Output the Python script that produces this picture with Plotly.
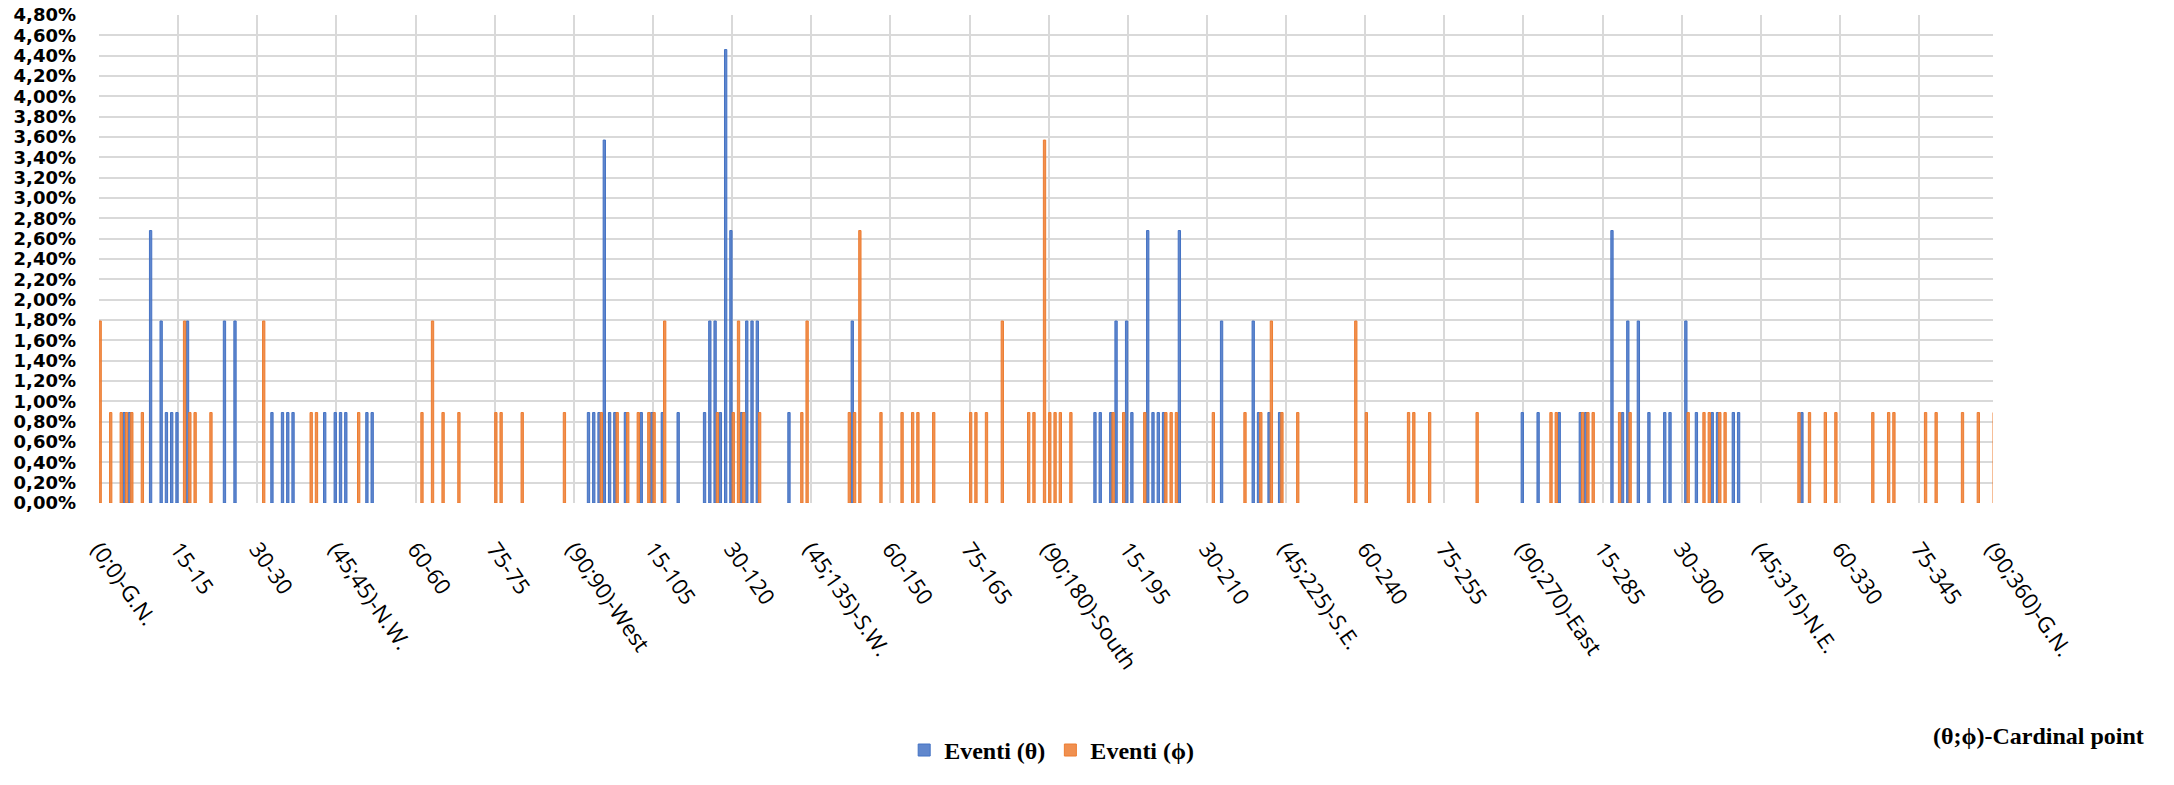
import plotly.graph_objects as go

# ---- data ----
# category index = azimuth phi in degrees along the (theta;phi) path
blue_phi = [5, 6, 10, 12, 13, 14, 15, 17, 24, 26, 33, 35, 36, 37, 43, 45, 46, 47, 51, 52,
            93, 94, 95, 96, 97, 98, 100, 103, 105, 107, 110, 115, 116, 117, 118, 119, 120,
            122, 123, 124, 125, 131, 143,
            189, 190, 192, 193, 195, 196, 199, 200, 201, 202, 205, 213, 219, 220, 222, 224,
            270, 273, 277, 281, 282, 287, 289, 290, 292, 294, 297, 298, 301, 303, 306, 307,
            310, 311, 323]
blue_pct = [0.89, 0.89, 2.68, 1.79, 0.89, 0.89, 0.89, 1.79, 1.79, 1.79, 0.89, 0.89, 0.89, 0.89,
            0.89, 0.89, 0.89, 0.89, 0.89, 0.89,
            0.89, 0.89, 0.89, 3.57, 0.89, 0.89, 0.89, 0.89, 0.89, 0.89, 0.89, 0.89, 1.79, 1.79,
            0.89, 4.46, 2.68, 0.89, 1.79, 1.79, 1.79, 0.89, 1.79,
            0.89, 0.89, 0.89, 1.79, 1.79, 0.89, 2.68, 0.89, 0.89, 0.89, 2.68, 1.79, 1.79, 0.89,
            0.89, 0.89,
            0.89, 0.89, 0.89, 0.89, 0.89, 2.68, 0.89, 1.79, 1.79, 0.89, 0.89, 0.89, 1.79, 0.89,
            0.89, 0.89, 0.89, 0.89, 0.89]

orange_phi = [0, 2, 4, 5, 6, 8, 16, 17, 18, 21, 31, 40, 41, 49, 61, 63, 65, 68, 75, 76, 80, 88,
              95, 98, 100, 102, 104, 105, 107, 117, 120, 121, 122, 125, 133, 134, 142, 143, 144,
              148, 152, 154, 155, 158, 165, 166, 168, 171, 176, 177, 179, 180,
              181, 182, 184, 192, 194, 198, 202, 203, 204, 211, 217, 220, 222, 224, 227, 238,
              240, 248, 249, 252, 261,
              275, 276, 281, 282, 283, 288, 290, 301, 304, 305, 307, 308, 322, 324, 327, 329,
              336, 339, 340, 346, 348, 353, 356, 359]
orange_pct = [1.79, 0.89, 0.89, 0.89, 0.89, 0.89, 1.79, 0.89, 0.89, 0.89, 1.79, 0.89, 0.89, 0.89,
              0.89, 1.79, 0.89, 0.89, 0.89, 0.89, 0.89, 0.89,
              0.89, 0.89, 0.89, 0.89, 0.89, 0.89, 1.79, 0.89, 0.89, 1.79, 0.89, 0.89, 0.89, 1.79,
              0.89, 0.89, 2.68, 0.89, 0.89, 0.89, 0.89, 0.89, 0.89, 0.89, 0.89, 1.79, 0.89, 0.89,
              3.57, 0.89,
              0.89, 0.89, 0.89, 0.89, 0.89, 0.89, 0.89, 0.89, 0.89, 0.89, 0.89, 0.89, 1.79, 0.89,
              0.89, 1.79, 0.89, 0.89, 0.89, 0.89, 0.89,
              0.89, 0.89, 0.89, 0.89, 0.89, 0.89, 0.89, 0.89, 0.89, 0.89, 0.89, 0.89, 0.89, 0.89,
              0.89, 0.89, 0.89, 0.89, 0.89, 0.89, 0.89, 0.89, 0.89, 0.89]

tick_phi = [0, 15, 30, 45, 60, 75, 90, 105, 120, 135, 150, 165, 180, 195, 210, 225, 240, 255,
            270, 285, 300, 315, 330, 345, 359]
tick_labels = ["(0;0)-G.N.", "15-15", "30-30", "(45;45)-N.W.", "60-60", "75-75", "(90;90)-West",
               "15-105", "30-120", "(45;135)-S.W.", "60-150", "75-165", "(90;180)-South",
               "15-195", "30-210", "(45;225)-S.E.", "60-240", "75-255", "(90;270)-East",
               "15-285", "30-300", "(45;315)-N.E.", "60-330", "75-345", "(90;360)-G.N."]
y_tickvals = [0.0, 0.2, 0.4, 0.6, 0.8, 1.0, 1.2, 1.4, 1.6, 1.8, 2.0, 2.2, 2.4, 2.6, 2.8, 3.0,
              3.2, 3.4, 3.6, 3.8, 4.0, 4.2, 4.4, 4.6, 4.8]
y_ticktext = [("%.2f" % v).replace(".", ",") + "%" for v in y_tickvals]

BLUE = "#4472C4"
ORANGE = "#ED7D31"

fig = go.Figure()
fig.add_trace(go.Bar(x=blue_phi, y=blue_pct, name="Eventi (θ)",
                     marker=dict(color="rgba(68,114,196,0.85)", line=dict(color=BLUE, width=1))))
fig.add_trace(go.Bar(x=orange_phi, y=orange_pct, name="Eventi (ϕ)",
                     marker=dict(color="rgba(237,125,49,0.85)", line=dict(color=ORANGE, width=1))))

W, H = 2174, 785
L, R, T, B = 99, 181, 15, 276

fig.update_layout(
    width=W, height=H,
    margin=dict(l=L, r=R, t=T, b=B, pad=0),
    paper_bgcolor="white", plot_bgcolor="white",
    barmode="group", bargap=0.12, bargroupgap=0,
    showlegend=True,
    legend=dict(orientation="h", x=0.503, xanchor="center", y=-0.507, yanchor="middle",
                font=dict(family="Liberation Serif", size=24, color="black", weight="bold"),
                itemwidth=30, traceorder="normal"),
    xaxis=dict(range=[0, 359], tickmode="array", tickvals=tick_phi, ticktext=tick_labels,
               tickangle=55, showgrid=True, gridcolor="#D9D9D9", gridwidth=2,
               zeroline=False, showline=False, ticks="", automargin=False,
               ticklabelstandoff=28, ticklabeloverflow="allow",
               tickfont=dict(family="Open Sans", size=22, color="black")),
    yaxis=dict(range=[0, 4.8], tickmode="array", tickvals=y_tickvals, ticktext=y_ticktext,
               showgrid=True, gridcolor="#D9D9D9", gridwidth=2,
               zeroline=False, showline=False, ticks="", automargin=False,
               ticklabelstandoff=22, ticklabeloverflow="allow",
               tickfont=dict(family="DejaVu Sans", size=18, color="black", weight="bold")),
    annotations=[dict(text="(θ;ϕ)-Cardinal point", xref="paper", yref="paper",
                      x=1.081, y=-0.477, xanchor="right", yanchor="middle", showarrow=False,
                      font=dict(family="Liberation Serif", size=24, color="black", weight="bold"))],
)

# remove the default page margin so the figure fills the window exactly
fig.write_html("out.html", config={"displayModeBar": False},
               post_script="document.body.style.margin='0px';document.body.style.overflow='hidden';")
